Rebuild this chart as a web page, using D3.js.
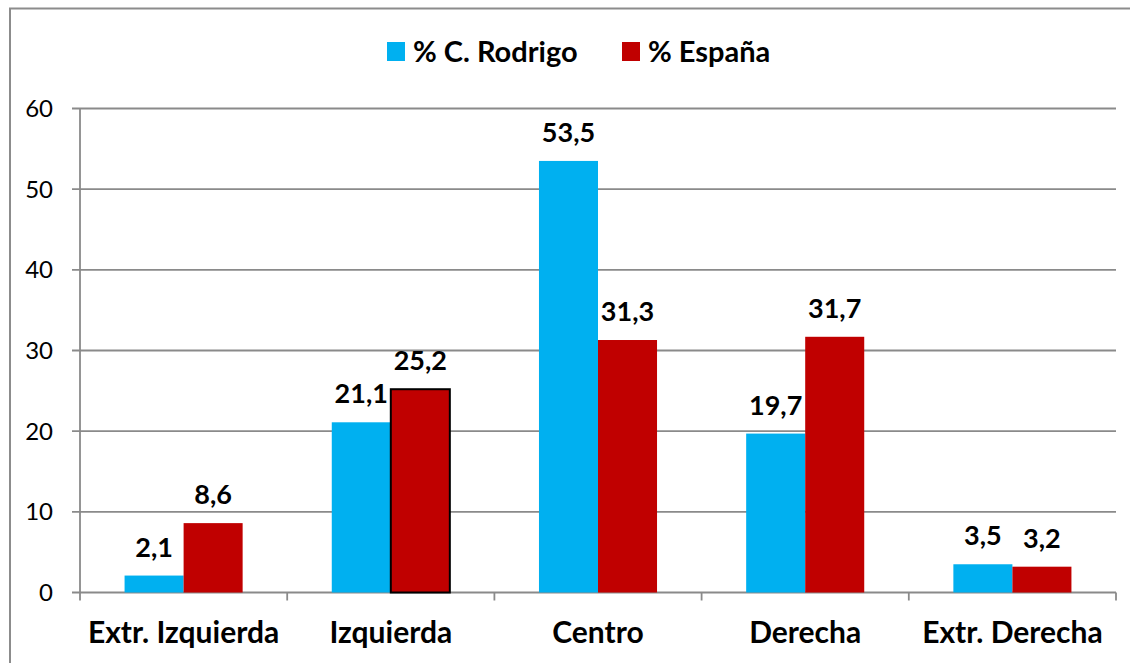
<!DOCTYPE html>
<html><head><meta charset="utf-8">
<script src="https://cdn.jsdelivr.net/npm/d3@7"></script>
<style>
body{margin:0;background:#fff;}
svg{display:block;font-family:Lato,"Open Sans",sans-serif;}
</style></head>
<body><svg id="c" width="1130" height="663"></svg>
<script>
const categories = ["Extr. Izquierda","Izquierda","Centro","Derecha","Extr. Derecha"];
const seriesNames = ["% C. Rodrigo","% España"];
const rodrigo = [2.1, 21.1, 53.5, 19.7, 3.5];
const espana = [8.6, 25.2, 31.3, 31.7, 3.2];
const yTicks = [0,10,20,30,40,50,60];
const colors = ["#00B0F0","#C00000"];

const svg = d3.select("#c");
const m = {l:80, r:1116, t:108.5, b:592.5};
// outer frame
svg.append("rect").attr("x",10).attr("y",8.5).attr("width",1140).attr("height",700)
  .attr("fill","none").attr("stroke","#8c8c8c").attr("stroke-width",2);

const x = d3.scaleBand().domain(categories).range([m.l,m.r]).paddingInner(0).paddingOuter(0);
const sub = d3.scaleBand().domain(seriesNames).range([0,x.bandwidth()]).paddingInner(0).paddingOuter(0.755);
const y = d3.scaleLinear().domain([0,60]).range([m.b,m.t]);

// gridlines
svg.append("g").selectAll("line").data(yTicks).join("line")
  .attr("x1",72).attr("x2",m.r).attr("y1",d=>y(d)).attr("y2",d=>y(d))
  .attr("stroke","#8a8a8a").attr("stroke-width",1.8);
// y axis line
svg.append("line").attr("x1",m.l).attr("x2",m.l).attr("y1",m.t).attr("y2",m.b+8)
  .attr("stroke","#8a8a8a").attr("stroke-width",1.8);
// x tick marks
const bounds = categories.map(c=>x(c)).concat([m.r]);
svg.append("g").selectAll("line").data(bounds.slice(1)).join("line")
  .attr("x1",d=>d).attr("x2",d=>d).attr("y1",m.b).attr("y2",m.b+8)
  .attr("stroke","#8a8a8a").attr("stroke-width",1.8);

// y labels
svg.append("g").selectAll("text").data(yTicks).join("text")
  .attr("x",53).attr("y",d=>y(d)+8.5).attr("text-anchor","end")
  .attr("font-size",24).attr("fill","#000").text(d=>d);

// bars
const data = categories.map((c,i)=>({c, vals:[rodrigo[i], espana[i]]}));
const groups = svg.append("g").selectAll("g").data(data).join("g")
  .attr("transform",d=>`translate(${x(d.c)},0)`);
groups.selectAll("rect").data((d,ci)=>d.vals.map((v,si)=>({v,si,ci}))).join("rect")
  .attr("x",d=>sub(seriesNames[d.si])).attr("width",sub.bandwidth())
  .attr("y",d=>y(d.v)).attr("height",d=>y(0)-y(d.v))
  .attr("fill",d=>colors[d.si])
  .attr("stroke",d=>(d.ci===1&&d.si===1)?"#000":"none")
  .attr("stroke-width",2);
groups.selectAll("text").data(d=>d.vals.map((v,si)=>({v,si}))).join("text")
  .attr("x",d=>sub(seriesNames[d.si])+sub.bandwidth()/2)
  .attr("y",d=>y(d.v)-19).attr("text-anchor","middle")
  .attr("font-size",27).attr("font-weight","bold").attr("fill","#000")
  .text(d=>d3.format(".1f")(d.v).replace(".",","));

// category labels
svg.append("g").selectAll("text").data(categories).join("text")
  .attr("x",d=>x(d)+x.bandwidth()/2).attr("y",643).attr("text-anchor","middle")
  .attr("font-size",30).attr("font-weight","bold").attr("fill","#000").text(d=>d);

// legend
const legX = [387, 622];
const lg = svg.append("g").selectAll("g").data(seriesNames).join("g")
  .attr("transform",(d,i)=>`translate(${legX[i]},42)`);
lg.append("rect").attr("width",18).attr("height",19).attr("fill",(d,i)=>colors[i]);
lg.append("text").attr("x",26).attr("y",20).attr("font-size",29).attr("font-weight","bold")
  .attr("fill","#000").text(d=>d);
</script></body></html>
